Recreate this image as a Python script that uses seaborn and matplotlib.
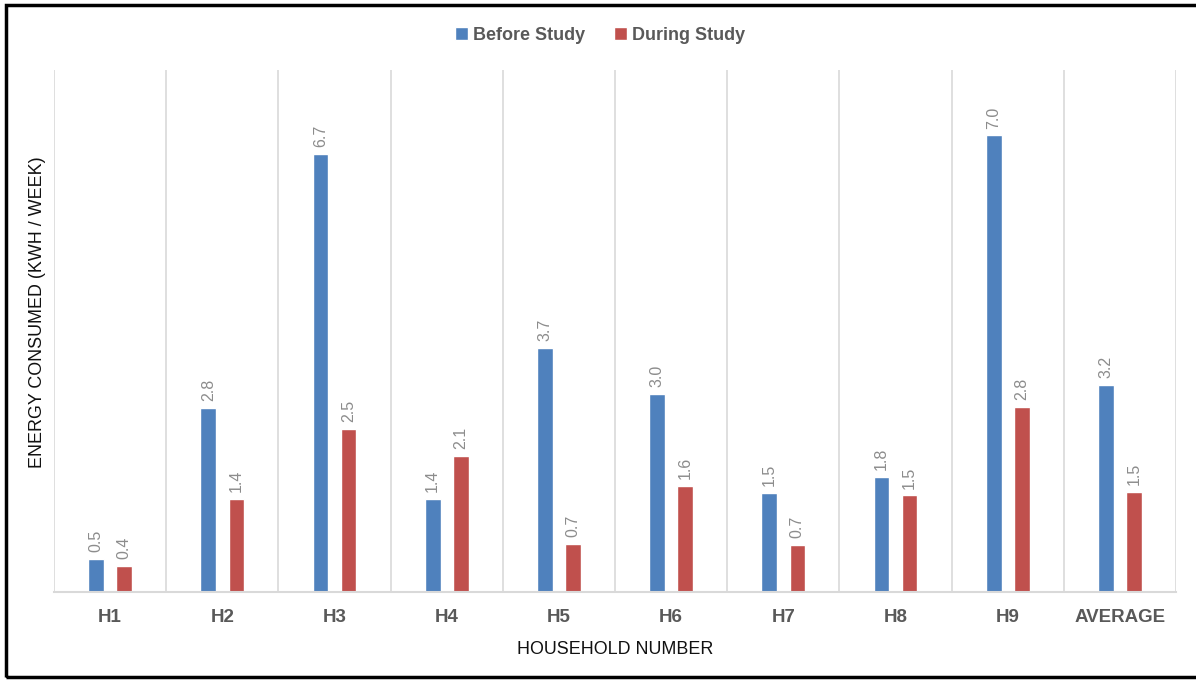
import pandas as pd
import matplotlib.pyplot as plt
from matplotlib.patches import Rectangle
import seaborn as sns

# Weekly energy use per household, before vs during the study
households = ["H1", "H2", "H3", "H4", "H5", "H6", "H7", "H8", "H9", "AVERAGE"]
before_study = [0.5, 2.82, 6.72, 1.43, 3.74, 3.03, 1.52, 1.77, 7.0, 3.17]
during_study = [0.4, 1.42, 2.5, 2.09, 0.74, 1.62, 0.72, 1.48, 2.84, 1.53]

df = pd.DataFrame({
    "Household": households * 2,
    "Energy": before_study + during_study,
    "Period": ["Before Study"] * len(households) + ["During Study"] * len(households),
})

sns.set_style("white")
plt.rcParams["font.family"] = ["Liberation Sans", "DejaVu Sans"]

fig = plt.figure(figsize=(11.96, 6.82), dpi=100)
ax = fig.add_axes([0.0452, 0.132, 0.9381, 0.765])

sns.barplot(data=df, x="Household", y="Energy", hue="Period",
            palette=["#4F81BD", "#C0504D"], width=0.5, gap=0.44,
            saturation=1, ax=ax, legend=True)

for c in ax.containers:
    ax.bar_label(c, fmt="%.1f", rotation=90, padding=5, color="#8c8c8c", fontsize=11.5)

ax.set_xlim(-0.5, len(households) - 0.5)
ax.set_ylim(0, 8)
ax.set_yticks([])
ax.set_xticks([i + 0.5 for i in range(-1, len(households))], minor=True)
ax.grid(True, which="minor", axis="x", color="#d9d9d9", linewidth=1.2)
ax.tick_params(axis="x", which="both", length=0, pad=12)
for lab in ax.get_xticklabels():
    lab.set_fontweight("bold")
    lab.set_color("#595959")
    lab.set_fontsize(13.5)

for s in ["top", "right", "left"]:
    ax.spines[s].set_visible(False)
ax.spines["bottom"].set_color("#d9d9d9")
ax.spines["bottom"].set_linewidth(1.5)

ax.set_xlabel("HOUSEHOLD NUMBER", fontsize=12.9, labelpad=11, color="#111111")
ax.set_ylabel("ENERGY CONSUMED (KWH / WEEK)", fontsize=12.9, color="#111111")
ax.yaxis.set_label_coords(-0.007, 0.536)

ax.legend(loc="center", bbox_to_anchor=(0.502, 0.948), bbox_transform=fig.transFigure,
          ncol=2, frameon=False, handlelength=0.7, handleheight=0.7,
          handletextpad=0.3, columnspacing=1.6,
          prop={"weight": "bold", "size": 13}, labelcolor="#595959")

# black frame around the chart (right edge runs off the image)
fig.patches.append(Rectangle((0.005, 0.008), 1.2, 0.984, transform=fig.transFigure,
                             fill=False, edgecolor="black", linewidth=2.5))

fig.savefig("out.png", dpi=100)
